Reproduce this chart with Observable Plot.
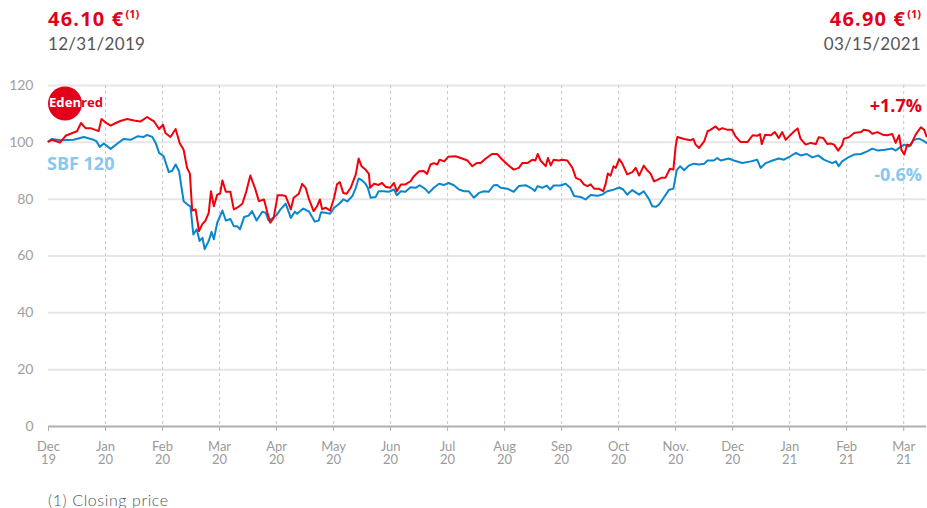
<!DOCTYPE html>
<html>
<head>
<meta charset="utf-8">
<script src="https://cdn.jsdelivr.net/npm/d3@7"></script>
<script src="https://cdn.jsdelivr.net/npm/@observablehq/plot@0.6"></script>
<style>
  html, body { margin: 0; padding: 0; background: #fff; }
  body { width: 927px; height: 508px; overflow: hidden; font-family: Lato, "Open Sans", sans-serif; }
  #wrap { position: relative; width: 927px; height: 508px; }
  .abs { position: absolute; white-space: nowrap; }
  .price { color: #e2001a; font-family: "Open Sans", sans-serif; font-weight: 700; font-size: 20px; letter-spacing: 1.2px; }
  .price sup { font-size: 11px; vertical-align: 8px; margin-left: 1px; letter-spacing: 0; }
  .date { color: #555; font-size: 17px; letter-spacing: 0.3px; }
  .lbl { font-family: "Open Sans", sans-serif; font-weight: 700; font-size: 18px; }
  .foot { color: #555; font-size: 16px; letter-spacing: 0.6px; font-weight: 300; }
</style>
</head>
<body>
<div id="wrap"></div>
<script>
// Month tick labels (equally spaced months, Dec 2019 → Mar 2021)
const monthLabels = ["Dec\n19","Jan\n20","Feb\n20","Mar\n20","Apr\n20","May\n20","Jun\n20","Jul\n20","Aug\n20","Sep\n20","Oct\n20","Nov.\n20","Dec\n20","Jan\n21","Feb\n21","Mar\n21"];
const yTicks = [0, 20, 40, 60, 80, 100, 120];

// Edenred (rebased 100) — time in months since start of Dec 2019
const edenredT = [0.00,0.06,0.20,0.30,0.42,0.50,0.57,0.65,0.74,0.82,0.88,0.93,1.00,1.09,1.18,1.26,1.38,1.50,1.61,1.73,1.85,1.94,2.01,2.05,2.14,2.23,2.30,2.37,2.43,2.48,2.52,2.58,2.64,2.70,2.75,2.81,2.85,2.90,2.96,3.01,3.05,3.11,3.19,3.25,3.31,3.40,3.47,3.54,3.62,3.69,3.78,3.84,3.89,3.95,4.02,4.10,4.16,4.25,4.30,4.39,4.45,4.51,4.57,4.65,4.71,4.76,4.80,4.86,4.94,5.01,5.06,5.11,5.17,5.23,5.30,5.39,5.44,5.49,5.56,5.62,5.64,5.71,5.79,5.85,5.91,5.99,6.06,6.11,6.18,6.26,6.35,6.41,6.50,6.58,6.64,6.70,6.76,6.82,6.86,6.94,7.01,7.14,7.23,7.35,7.43,7.51,7.58,7.67,7.78,7.87,7.93,8.05,8.16,8.25,8.31,8.40,8.49,8.54,8.58,8.63,8.72,8.76,8.81,8.86,8.95,9.01,9.10,9.19,9.25,9.33,9.39,9.45,9.51,9.57,9.65,9.73,9.77,9.81,9.86,9.91,9.95,10.01,10.06,10.15,10.24,10.30,10.36,10.44,10.50,10.56,10.62,10.68,10.75,10.82,10.90,10.96,11.00,11.03,11.15,11.26,11.31,11.35,11.41,11.50,11.56,11.61,11.70,11.76,11.82,11.91,11.99,12.05,12.14,12.26,12.35,12.43,12.48,12.51,12.57,12.67,12.74,12.81,12.87,12.93,13.02,13.08,13.14,13.19,13.28,13.37,13.46,13.51,13.59,13.66,13.72,13.78,13.85,13.92,13.95,14.04,14.13,14.25,14.30,14.39,14.45,14.54,14.63,14.71,14.80,14.86,14.92,14.96,15.01,15.06,15.12,15.21,15.30,15.36,15.40];
const edenredV = [100.3,100.9,99.9,102.3,103.3,103.9,106.8,105.0,105.0,104.4,104.0,108.2,107.0,105.9,106.8,107.5,108.2,107.7,107.3,108.9,107.4,104.7,106.2,103.3,101.9,104.7,99.8,97.4,91.0,89.0,76.0,76.4,68.8,71.3,72.3,75.2,82.8,77.5,81.6,82.0,86.6,82.6,82.6,76.4,77.0,78.4,82.8,88.3,84.0,79.3,79.9,75.2,71.7,73.4,81.4,81.4,81.1,76.4,80.5,81.9,85.4,84.0,79.9,75.8,77.5,79.9,76.4,77.0,76.0,80.5,85.2,86.0,82.2,81.9,84.0,88.7,94.3,91.6,90.4,88.9,84.0,85.4,85.0,85.7,84.4,84.0,85.7,82.8,85.2,85.2,86.3,88.1,89.8,89.9,88.9,92.2,92.7,92.2,93.9,93.3,94.9,95.1,94.5,93.6,91.6,92.7,92.7,94.3,95.9,95.9,94.5,92.2,90.4,91.0,92.7,92.7,93.9,93.6,95.9,93.6,91.6,94.5,91.9,93.9,93.6,93.9,93.6,91.0,87.5,86.8,85.2,84.6,85.2,83.7,83.7,82.8,85.2,89.0,88.3,91.6,91.0,94.1,92.7,88.7,89.5,91.0,88.3,91.8,90.2,89.0,86.3,86.8,87.5,87.5,90.7,90.4,98.6,101.9,101.2,100.7,101.2,99.2,98.0,100.3,103.9,104.4,105.6,104.4,105.0,104.4,104.4,102.1,100.1,100.1,102.5,102.3,102.9,99.4,102.7,102.5,103.6,101.5,103.6,100.9,102.7,103.9,104.9,101.3,99.2,99.8,99.4,101.8,101.5,99.4,99.6,99.2,97.1,99.0,101.3,101.8,103.3,103.6,104.4,104.1,103.0,103.6,102.7,102.5,102.9,99.8,102.5,97.4,95.7,99.2,98.9,102.7,105.3,104.4,102.1];

// SBF 120 (rebased 100)
const sbfT = [0.00,0.06,0.21,0.44,0.62,0.79,0.84,0.90,0.97,1.09,1.21,1.32,1.44,1.56,1.67,1.73,1.82,1.88,1.94,2.02,2.11,2.17,2.23,2.29,2.37,2.46,2.49,2.54,2.60,2.65,2.70,2.74,2.81,2.86,2.90,2.96,3.05,3.11,3.19,3.25,3.31,3.36,3.43,3.51,3.57,3.65,3.75,3.81,3.86,3.92,4.00,4.07,4.16,4.25,4.32,4.36,4.47,4.57,4.67,4.74,4.78,4.86,4.94,5.01,5.09,5.17,5.24,5.33,5.39,5.44,5.50,5.56,5.60,5.65,5.74,5.79,5.88,5.97,6.06,6.11,6.18,6.26,6.35,6.44,6.51,6.60,6.67,6.76,6.85,6.94,7.02,7.11,7.20,7.29,7.37,7.46,7.55,7.64,7.72,7.81,7.87,7.93,8.05,8.16,8.25,8.37,8.46,8.53,8.58,8.66,8.74,8.80,8.86,8.98,9.07,9.15,9.22,9.33,9.42,9.51,9.63,9.71,9.80,9.89,10.01,10.08,10.15,10.24,10.36,10.44,10.53,10.59,10.65,10.71,10.79,10.88,10.96,11.02,11.08,11.15,11.23,11.32,11.41,11.50,11.56,11.67,11.73,11.79,11.93,12.02,12.17,12.32,12.43,12.49,12.58,12.70,12.81,12.90,13.01,13.11,13.19,13.30,13.40,13.50,13.60,13.67,13.75,13.81,13.86,13.92,14.01,14.13,14.25,14.36,14.45,14.55,14.67,14.80,14.86,14.95,15.01,15.09,15.18,15.27,15.36,15.40];
const sbfV = [100.3,101.2,100.7,100.9,101.9,100.9,100.4,98.4,99.6,97.7,99.6,101.2,100.9,102.1,101.9,102.6,101.9,99.8,96.3,95.1,89.5,90.0,92.2,89.8,79.3,77.8,77.5,67.6,69.4,65.3,66.4,62.4,65.3,68.5,65.9,71.7,76.0,72.5,73.0,70.5,70.5,69.4,73.7,74.2,75.8,72.5,75.6,75.2,72.5,73.2,74.4,76.4,78.4,73.4,75.6,74.9,76.7,75.6,72.1,72.5,75.4,75.2,74.9,77.0,78.2,79.9,79.2,81.1,84.0,87.3,86.6,85.4,84.0,80.5,80.8,82.8,82.8,82.6,83.4,81.4,82.8,82.6,84.2,84.0,84.9,83.7,82.2,84.0,85.4,85.0,85.7,84.9,83.4,82.8,82.8,80.5,82.2,82.8,82.6,84.9,85.0,84.0,83.7,82.6,84.6,84.9,84.0,82.9,84.6,84.0,84.8,83.4,84.8,84.8,85.4,84.0,81.1,80.8,79.9,81.5,81.2,81.6,82.8,83.2,84.1,83.4,81.6,83.2,81.6,82.8,80.1,77.5,77.3,78.1,80.5,83.2,83.7,90.2,91.6,90.2,91.8,92.5,92.2,92.5,93.6,93.6,94.5,93.6,94.3,93.6,92.7,93.3,93.9,91.0,92.7,93.6,94.3,93.9,95.1,96.3,95.4,95.9,94.7,95.4,93.9,93.3,92.7,93.3,91.6,93.3,94.5,95.7,95.9,96.8,97.8,97.1,97.4,97.8,97.1,98.5,99.2,98.5,100.9,101.3,100.4,99.8];

// Header texts
const startPrice = "46.10 €", startDate = "12/31/2019";
const endPrice = "46.90 €", endDate = "03/15/2021";
const edenredChange = "+1.7%", sbfChange = "-0.6%";
const sbfName = "SBF 120", footnote = "(1) Closing price";

const RED = "#f2000c", BLUE = "#0a87cc", LIGHTBLUE = "#86c8f0", DARKRED = "#e2001a";

const edenred = edenredT.map((t, i) => ({t, v: edenredV[i]}));
const sbf = sbfT.map((t, i) => ({t, v: sbfV[i]}));

const chart = Plot.plot({
  width: 927,
  height: 508,
  marginTop: 85,
  marginBottom: 82,
  marginLeft: 48,
  marginRight: 1,
  style: {fontFamily: "Lato, 'Open Sans', sans-serif", background: "transparent", overflow: "visible"},
  x: {domain: [0, 15.4]},
  y: {domain: [0, 120]},
  marks: [
    Plot.gridY(yTicks.filter(d => d > 0), {stroke: "#e6e6e6", strokeWidth: 2, strokeOpacity: 1}),
    Plot.gridX(d3.range(1, monthLabels.length), {stroke: "#c8c8c8", strokeDasharray: "3,3", strokeOpacity: 1, strokeWidth: 1}),
    Plot.axisY(yTicks, {tickSize: 0, tickPadding: 15, fontSize: 14, fill: "#a0a0a0", label: null}),
    Plot.axisX(d3.range(monthLabels.length), {
      tickFormat: i => monthLabels[i], tickSize: 5, tickPadding: 10, fontSize: 13,
      stroke: "#b0b0b0", fill: "#9a9a9a", label: null, lineHeight: 1.0
    }),
    Plot.ruleY([0], {stroke: "#b0b0b0", strokeWidth: 2}),
    Plot.line(sbf, {x: "t", y: "v", stroke: BLUE, strokeWidth: 2, curve: "linear"}),
    Plot.line(edenred, {x: "t", y: "v", stroke: RED, strokeWidth: 2, curve: "linear"})
  ]
});

const wrap = document.getElementById("wrap");
chart.style.position = "absolute";
chart.style.left = "0px";
chart.style.top = "0px";
wrap.appendChild(chart);

function addText(html, cls, css) {
  const d = document.createElement("div");
  d.className = "abs " + cls;
  d.innerHTML = html;
  Object.assign(d.style, css);
  wrap.appendChild(d);
  return d;
}
addText(startPrice + "<sup>(1)</sup>", "price", {left: "48px", top: "5px"});
addText(startDate, "date", {left: "48px", top: "33px"});
addText(endPrice + "<sup>(1)</sup>", "price", {right: "6px", top: "5px"});
addText(endDate, "date", {right: "6px", top: "33px"});
addText(sbfName, "lbl", {left: "47px", top: "151px", color: LIGHTBLUE});
addText(edenredChange, "lbl", {right: "5px", top: "93px", color: DARKRED});
addText(sbfChange, "lbl", {right: "5px", top: "162px", color: LIGHTBLUE});
addText(footnote, "foot", {left: "48px", top: "490px"});

// Edenred logo
const ns = "http://www.w3.org/2000/svg";
const logo = document.createElementNS(ns, "svg");
logo.setAttribute("width", "70");
logo.setAttribute("height", "40");
logo.style.position = "absolute";
logo.style.left = "44px";
logo.style.top = "86px";
logo.innerHTML = `
  <defs><clipPath id="lc"><circle cx="21" cy="17.5" r="17"/></clipPath></defs>
  <text x="5" y="21" font-family="'Open Sans', sans-serif" font-weight="700" font-size="12.5" textLength="54" lengthAdjust="spacingAndGlyphs" fill="${DARKRED}">Edenred</text>
  <circle cx="21" cy="17.5" r="17" fill="${DARKRED}"/>
  <text x="5" y="21" font-family="'Open Sans', sans-serif" font-weight="700" font-size="12.5" textLength="54" lengthAdjust="spacingAndGlyphs" fill="#fff" clip-path="url(#lc)">Edenred</text>`;
wrap.appendChild(logo);
</script>
</body>
</html>
